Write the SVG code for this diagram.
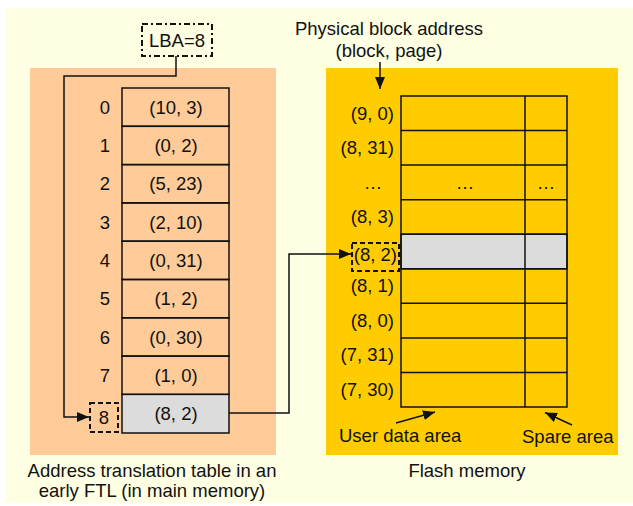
<svg xmlns="http://www.w3.org/2000/svg" width="633" height="506" viewBox="0 0 633 506">
<defs>
<style>
text{font-family:"Liberation Sans",Arial,sans-serif;font-size:18.5px;fill:#111}
.c{text-anchor:middle}
.e{text-anchor:end}
.cell{fill:none;stroke:#111;stroke-width:1.5}
.gray{fill:#DCDCDC;stroke:#111;stroke-width:1.5}
.conn{fill:none;stroke:#111;stroke-width:1.5}
.dash{fill:none;stroke:#111;stroke-width:2;stroke-dasharray:5 3}
</style>
<marker id="ah" viewBox="0 0 12 10" refX="12" refY="5" markerWidth="12" markerHeight="10" markerUnits="userSpaceOnUse" orient="auto">
<path d="M0,0 L12,5 L0,10 z" fill="#111"/>
</marker>
</defs>
<rect x="5" y="8" width="628" height="495" fill="#FFFFE3"/>

<g id="ftl-table">
<rect x="30" y="68" width="246" height="387" fill="#FFCC99"/>
<g>
<rect class="cell" x="122" y="88" width="107" height="38.3"/>
<rect class="cell" x="122" y="126.3" width="107" height="38.3"/>
<rect class="cell" x="122" y="164.6" width="107" height="38.3"/>
<rect class="cell" x="122" y="202.9" width="107" height="38.3"/>
<rect class="cell" x="122" y="241.2" width="107" height="38.3"/>
<rect class="cell" x="122" y="279.5" width="107" height="38.3"/>
<rect class="cell" x="122" y="317.8" width="107" height="38.3"/>
<rect class="cell" x="122" y="356.1" width="107" height="38.3"/>
<rect class="gray" x="122" y="394.4" width="107" height="38.6"/>
</g>
<g>
<text class="c" x="105" y="113.8">0</text>
<text class="c" x="105" y="152.1">1</text>
<text class="c" x="105" y="190.4">2</text>
<text class="c" x="105" y="228.7">3</text>
<text class="c" x="105" y="267">4</text>
<text class="c" x="105" y="305.3">5</text>
<text class="c" x="105" y="343.6">6</text>
<text class="c" x="105" y="381.9">7</text>
<text class="c" x="176" y="113.8">(10, 3)</text>
<text class="c" x="176" y="152.1">(0, 2)</text>
<text class="c" x="176" y="190.4">(5, 23)</text>
<text class="c" x="176" y="228.7">(2, 10)</text>
<text class="c" x="176" y="267">(0, 31)</text>
<text class="c" x="176" y="305.3">(1, 2)</text>
<text class="c" x="176" y="343.6">(0, 30)</text>
<text class="c" x="176" y="381.9">(1, 0)</text>
<text class="c" x="176" y="420.3">(8, 2)</text>
</g>
<text class="c" x="152" y="477">Address translation table in an</text>
<text class="c" x="152" y="497">early FTL (in main memory)</text>
</g>

<g id="lba">
<rect x="142" y="24" width="70" height="32" fill="none" stroke="#111" stroke-width="2" stroke-dasharray="6 3 2 3"/>
<text class="c" x="177" y="46.5">LBA=8</text>
</g>

<g id="index-8">
<rect class="dash" x="90" y="403" width="28" height="29"/>
<text class="c" x="104" y="424">8</text>
</g>

<g id="flash">
<rect x="326" y="68" width="292" height="387" fill="#FFCC00"/>
<rect class="gray" x="401" y="234.2" width="166" height="34.6"/>
<rect class="cell" x="401" y="96" width="166" height="311"/>
<path class="cell" d="M525,96 V407 M401,130.6 H567 M401,165.1 H567 M401,199.7 H567 M401,234.2 H567 M401,268.8 H567 M401,303.3 H567 M401,337.9 H567 M401,372.4 H567"/>
<text class="e" x="394" y="119.6">(9, 0)</text>
<text class="e" x="394" y="154.1">(8, 31)</text>
<text class="c" x="373" y="188.7">…</text>
<text class="c" x="465" y="188.7">…</text>
<text class="c" x="546" y="188.7">…</text>
<text class="e" x="394" y="223.3">(8, 3)</text>
<text class="e" x="394" y="292.3">(8, 1)</text>
<text class="e" x="394" y="326.9">(8, 0)</text>
<text class="e" x="394" y="361.4">(7, 31)</text>
<text class="e" x="394" y="396">(7, 30)</text>
<text x="339" y="442">User data area</text>
<text x="522" y="443">Spare area</text>
<text class="c" x="467" y="477">Flash memory</text>
</g>

<g id="target-8-2">
<rect class="dash" x="352" y="243" width="47" height="28"/>
<text class="e" x="397" y="260.8">(8, 2)</text>
</g>

<g id="pba-label">
<text class="c" x="389" y="35">Physical block address</text>
<text class="c" x="389" y="57">(block, page)</text>
</g>

<g id="connectors">
<path class="conn" d="M176,56 V76 H64 V417 H89" marker-end="url(#ah)"/>
<path class="conn" d="M229,413 H289 V254 H351" marker-end="url(#ah)"/>
<path class="conn" d="M380,62 V89" marker-end="url(#ah)"/>
<path class="conn" d="M396,423 L435,412" marker-end="url(#ah)"/>
<path class="conn" d="M572,425 L545,412.5" marker-end="url(#ah)"/>
</g>
</svg>
